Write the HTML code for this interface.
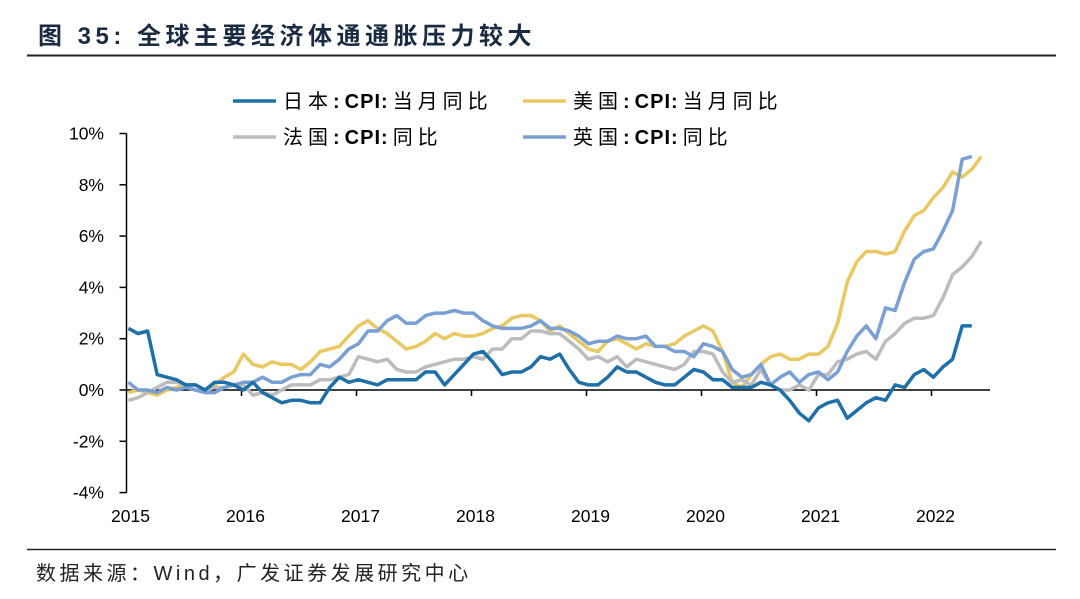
<!DOCTYPE html>
<html><head><meta charset="utf-8"><style>
body{margin:0;background:#fff;}
svg text{font-family:"Liberation Sans","Noto Sans CJK SC",sans-serif;}
</style></head><body>
<svg width="1080" height="594" viewBox="0 0 1080 594">
<text x="38" y="44" font-size="24" font-weight="bold" letter-spacing="4.5" fill="#1a2a40">图 <tspan font-family="Liberation Sans">35:</tspan> 全球主要经济体通通胀压力较大</text>
<line x1="27" y1="55.5" x2="1056" y2="55.5" stroke="#222" stroke-width="2"/>
<line x1="27" y1="549.5" x2="1056" y2="549.5" stroke="#222" stroke-width="1.5"/>
<text x="36" y="580" font-size="20" letter-spacing="3.5" fill="#222">数据来源：Wind，广发证券发展研究中心</text>
<g id="legend"></g>
<g id="axes"></g>
<g id="series"></g>
</svg>
<script>
const years=["2015","2016","2017","2018","2019","2020","2021","2022"];
const yTicks=[-4,-2,0,2,4,6,8,10];
const seriesNames=["日本:CPI:当月同比","美国:CPI:当月同比","法国:CPI:同比","英国:CPI:同比"];
const seriesColors=["#1f6fa8","#e8c862","#bcbcbc","#7a9fd2"];
const japan=[2.4,2.2,2.3,0.6,0.5,0.4,0.2,0.2,0.0,0.3,0.3,0.2,0.0,0.3,-0.1,-0.3,-0.5,-0.4,-0.4,-0.5,-0.5,0.1,0.5,0.3,0.4,0.3,0.2,0.4,0.4,0.4,0.4,0.7,0.7,0.2,0.6,1.0,1.4,1.5,1.1,0.6,0.7,0.7,0.9,1.3,1.2,1.4,0.8,0.3,0.2,0.2,0.5,0.9,0.7,0.7,0.5,0.3,0.2,0.2,0.5,0.8,0.7,0.4,0.4,0.1,0.1,0.1,0.3,0.2,0.0,-0.4,-0.9,-1.2,-0.7,-0.5,-0.4,-1.1,-0.8,-0.5,-0.3,-0.4,0.2,0.1,0.6,0.8,0.5,0.9,1.2,2.5,2.5];
const us=[-0.1,0.0,-0.1,-0.2,0.0,0.1,0.2,0.2,0.0,0.2,0.5,0.7,1.4,1.0,0.9,1.1,1.0,1.0,0.8,1.1,1.5,1.6,1.7,2.1,2.5,2.7,2.4,2.2,1.9,1.6,1.7,1.9,2.2,2.0,2.2,2.1,2.1,2.2,2.4,2.5,2.8,2.9,2.9,2.7,2.3,2.5,2.2,1.9,1.6,1.5,1.9,2.0,1.8,1.6,1.8,1.7,1.7,1.8,2.1,2.3,2.5,2.3,1.5,0.3,0.1,0.6,1.0,1.3,1.4,1.2,1.2,1.4,1.4,1.7,2.6,4.2,5.0,5.4,5.4,5.3,5.4,6.2,6.8,7.0,7.5,7.9,8.5,8.3,8.6,9.1];
const france=[-0.4,-0.3,-0.1,0.1,0.3,0.3,0.2,0.2,0.0,0.1,0.1,0.2,0.2,-0.2,-0.1,-0.2,0.0,0.2,0.2,0.2,0.4,0.4,0.5,0.6,1.3,1.2,1.1,1.2,0.8,0.7,0.7,0.9,1.0,1.1,1.2,1.2,1.3,1.2,1.6,1.6,2.0,2.0,2.3,2.3,2.2,2.2,1.9,1.6,1.2,1.3,1.1,1.3,0.9,1.2,1.1,1.0,0.9,0.8,1.0,1.5,1.5,1.4,0.7,0.3,0.4,0.2,0.8,0.2,0.0,0.0,0.2,0.0,0.6,0.6,1.1,1.2,1.4,1.5,1.2,1.9,2.2,2.6,2.8,2.8,2.9,3.6,4.5,4.8,5.2,5.8];
const uk=[0.3,0.0,0.0,-0.1,0.1,0.0,0.1,0.0,-0.1,-0.1,0.1,0.2,0.3,0.3,0.5,0.3,0.3,0.5,0.6,0.6,1.0,0.9,1.2,1.6,1.8,2.3,2.3,2.7,2.9,2.6,2.6,2.9,3.0,3.0,3.1,3.0,3.0,2.7,2.5,2.4,2.4,2.4,2.5,2.7,2.4,2.4,2.3,2.1,1.8,1.9,1.9,2.1,2.0,2.0,2.1,1.7,1.7,1.5,1.5,1.3,1.8,1.7,1.5,0.8,0.5,0.6,1.0,0.2,0.5,0.7,0.3,0.6,0.7,0.4,0.7,1.5,2.1,2.5,2.0,3.2,3.1,4.2,5.1,5.4,5.5,6.2,7.0,9.0,9.1];
const NS="http://www.w3.org/2000/svg";
const X0=126.5,YR=115,Y0=390,PER2=51.3;
function xm(i){return X0+YR/12*(i+0.2);}
function yv(v){return Y0-v*PER2/2;}
function mk(t,a,p){const e=document.createElementNS(NS,t);for(const k in a)e.setAttribute(k,a[k]);(p||null)&&p.appendChild(e);return e;}
const axes=document.getElementById('axes');
const ya=mk('line',{x1:X0,y1:yv(10),x2:X0,y2:yv(-4),stroke:'#000','stroke-width':1.5},axes);


const xa=mk('line',{x1:X0,y1:Y0,x2:990,y2:Y0,stroke:'#000','stroke-width':1.5},axes);


yTicks.forEach(v=>{
  mk('line',{x1:X0-7,y1:yv(v),x2:X0,y2:yv(v),stroke:'#000','stroke-width':1.5},axes);
  const t=mk('text',{x:104,y:yv(v)+6,'font-size':17.5,'text-anchor':'end',fill:'#000'},axes);
  t.textContent=v+'%';
  
  
});
years.forEach((y,i)=>{
  const x=X0+i*YR;
  if(i>0)mk('line',{x1:x,y1:Y0,x2:x,y2:Y0+6,stroke:'#000','stroke-width':1.5},axes);
  const t=mk('text',{x:x+4,y:522,'font-size':17.5,'text-anchor':'middle',fill:'#000'},axes);
  t.textContent=y;
  
  
});
const sg=document.getElementById('series');
const data=[us,france,uk,japan],cols=[seriesColors[1],seriesColors[2],seriesColors[3],seriesColors[0]],names=['us-cpi-line','france-cpi-line','uk-cpi-line','japan-cpi-line'];
data.forEach((d,k)=>{
  const p=mk('polyline',{points:d.map((v,i)=>xm(i).toFixed(1)+','+yv(v).toFixed(1)).join(' '),fill:'none',stroke:cols[k],'stroke-width':3.5,'stroke-linejoin':'round'},sg);
  
  
});
const lg=document.getElementById('legend');
const lpos=[[233,101],[523,101],[233,137],[523,137]];
seriesNames.forEach((n,i)=>{
  const [x,y]=lpos[i];
  mk('line',{x1:x,y1:y,x2:x+43,y2:y,stroke:seriesColors[i],'stroke-width':3.5},lg);
  const t=mk('text',{x:x+50,y:y+7,'font-size':20,'letter-spacing':'5',fill:'#000'},lg);
  t.innerHTML=n.replace(/CPI/,'<tspan font-weight="bold" font-family="Liberation Sans" letter-spacing="1">CPI</tspan>').replace(/:/g,'<tspan font-weight="bold">:</tspan>');
  
  
});
</script>
</body></html>
